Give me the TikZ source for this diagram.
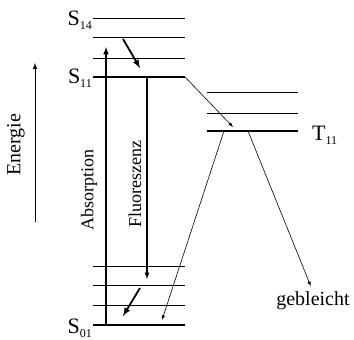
\documentclass[tikz,border=0pt]{standalone}
\usepackage{fontspec}
\setmainfont{Liberation Serif}
\usetikzlibrary{positioning}

\newcommand{\niveau}[2]{#1\raisebox{-4pt}{\fontsize{12}{12}\selectfont #2}}

\begin{document}
\begin{tikzpicture}[>=latex, x=1pt, y=-1pt]
    \useasboundingbox (0,0) rectangle (354,340);
    \tikzset{
        level/.style={line width=0.8pt},
        mainlevel/.style={line width=1.8pt},
        label/.style={font=\fontsize{22}{22}\selectfont, inner sep=0pt},
        axistext/.style={font=\fontsize{18}{18}\selectfont, rotate=90, inner sep=0pt},
        thin arrow/.style={->, line width=0.6pt}
    }

    % Singulett-Niveaus
    \foreach \y in {18,37,58,266,285,305} {
        \draw[level] (93,\y) -- (185,\y);
    }
    \draw[mainlevel] (93,77) -- (185,77);
    \draw[mainlevel] (93,325) -- (185,325);

    % Triplett-Niveaus
    \foreach \y in {92,113} {
        \draw[level] (207,\y) -- (298,\y);
    }
    \draw[mainlevel] (207,131) -- (298,131);

    % Bezeichnungen
    \node[label, anchor=base east] (s14) at (92,25) {\niveau{S}{14}};
    \node[label, anchor=base east] (s11) at (92,83) {\niveau{S}{11}};
    \node[label, anchor=base east] (s01) at (92,333) {\niveau{S}{01}};
    \node[label, anchor=base west] (t11) at (312,140) {\niveau{T}{11}};
    \node[axistext, font=\fontsize{20}{20}\selectfont] (energie) at (16,145) {Energie};
    \node[axistext] (absorption) at (89,190) {Absorption};
    \node[axistext] (fluoreszenz) at (135,184) {Fluoreszenz};
    \node[font=\fontsize{20}{20}\selectfont, inner sep=0pt] (gebleicht) at (313,301) {gebleicht};

    % Punkte fuer die Pfeile
    \coordinate (e0) at (35,222);
    \coordinate (e1) at (35,63);
    \coordinate (a0) at (106,325);
    \coordinate (a1) at (106,47);
    \coordinate (f0) at (147,77);
    \coordinate (f1) at (147,279);
    \coordinate (r0) at (123,39);
    \coordinate (r1) at (140,68);
    \coordinate (r2) at (140,288);
    \coordinate (r3) at (123,316);
    \coordinate (isc0) at (185,77);
    \coordinate (isc1) at (233,127);
    \coordinate (p0) at (224,131);
    \coordinate (p1) at (162,320);
    \coordinate (b0) at (248,131);

    % Pfeile
    \draw[->, line width=1pt] (e0) -- (e1);
    \draw[->, line width=1.5pt] (a0) -- (a1);
    \draw[->, line width=1.2pt] (f0) -- (f1);
    \draw[->, line width=1.8pt] (r0) -- (r1);
    \draw[->, line width=1.8pt] (r2) -- (r3);
    \draw[thin arrow] (isc0) -- (isc1);
    \draw[thin arrow] (p0) -- (p1);
    \draw[thin arrow, shorten >=6pt] (b0) -- (gebleicht.north);
\end{tikzpicture}
\end{document}
